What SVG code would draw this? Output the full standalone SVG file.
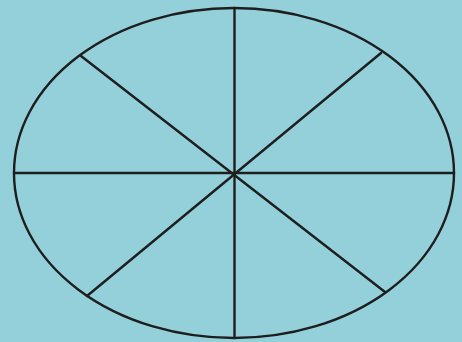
<svg xmlns="http://www.w3.org/2000/svg" width="462" height="342" viewBox="0 0 462 342">
<style>
.ln{stroke:#1e1e1e;stroke-width:2.4;fill:none;stroke-linecap:round}
</style>
<rect x="0" y="0" width="462" height="342" fill="#93d0da"/>
<g id="ellipse">
<ellipse class="ln" cx="234" cy="173" rx="220" ry="165"/>
</g>
<g id="connectors">
<line class="ln" x1="234.5" y1="8" x2="234.5" y2="338"/>
<line class="ln" x1="14" y1="173" x2="454" y2="173"/>
<line class="ln" x1="81" y1="56" x2="385" y2="292"/>
<line class="ln" x1="381" y1="53" x2="87" y2="296"/>
</g>
</svg>
